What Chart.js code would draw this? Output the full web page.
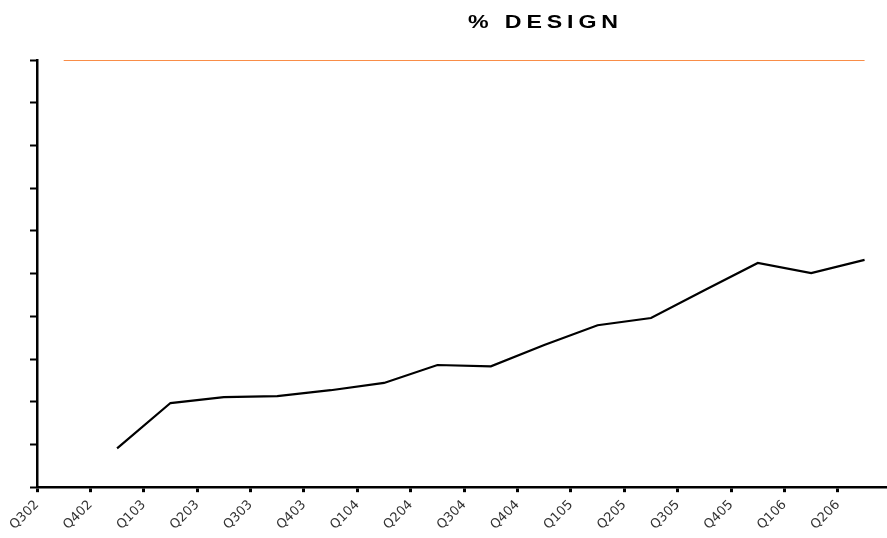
<!DOCTYPE html>
<html>
<head>
<meta charset="utf-8">
<script src="https://cdn.jsdelivr.net/npm/chart.js@4.4.0/dist/chart.umd.min.js"></script>
<style>
  html, body { margin: 0; padding: 0; background: #fff; }
  #wrap { width: 887px; height: 538px; position: relative; }
</style>
</head>
<body>
<div id="wrap"><canvas id="designChart"></canvas></div>
<script>
// quarter labels sit on the tick marks, values sit between them
const quarters = ['Q302', 'Q402', 'Q103', 'Q203', 'Q303', 'Q403', 'Q104', 'Q204',
  'Q304', 'Q404', 'Q105', 'Q205', 'Q305', 'Q405', 'Q106', 'Q206'];
const designPct = [null, 9.1, 19.7, 21.1, 21.3, 22.7, 24.4, 28.6,
  28.3, 33.3, 37.9, 39.6, 46.1, 52.5, 50.1, 53.2];
const targetPct = [100, 100, 100, 100, 100, 100, 100, 100,
  100, 100, 100, 100, 100, 100, 100, 100];
const chartTitle = '% DESIGN';

function toPoints(values) {
  return values.map((v, i) => ({ x: i + 0.5, y: v }));
}

// title is wide and off-centre in the original, so draw it by hand
const titlePlugin = {
  id: 'stretchedTitle',
  afterDraw(chart) {
    const c = chart.ctx;
    c.save();
    c.letterSpacing = '4px';
    c.font = 'bold 19px "Liberation Sans", Arial, sans-serif';
    c.fillStyle = '#000';
    c.textBaseline = 'alphabetic';
    c.translate(468, 28);
    c.scale(1.22, 1);
    c.fillText(chartTitle, 0, 0);
    c.restore();
  }
};

const ctx = document.getElementById('designChart').getContext('2d');

new Chart(ctx, {
  type: 'line',
  data: {
    datasets: [
      {
        label: 'Target',
        data: toPoints(targetPct),
        borderColor: '#f98d48',
        borderWidth: 2,
        pointRadius: 0,
        tension: 0
      },
      {
        label: '% Design',
        data: toPoints(designPct),
        borderColor: '#000',
        borderWidth: 2.2,
        pointRadius: 0,
        tension: 0,
        spanGaps: false
      }
    ]
  },
  options: {
    responsive: true,
    maintainAspectRatio: false,
    animation: false,
    layout: {
      padding: { top: 60, left: 30, right: 0, bottom: 0 }
    },
    plugins: {
      legend: { display: false },
      tooltip: { enabled: false },
      title: { display: false }
    },
    scales: {
      x: {
        type: 'linear',
        min: 0,
        max: 15.92,
        bounds: 'data',
        afterBuildTicks: function(scale) {
          scale.ticks = quarters.map((_, i) => ({ value: i }));
        },
        ticks: {
          autoSkip: false,
          minRotation: 45,
          maxRotation: 45,
          padding: 5,
          color: '#333',
          font: { family: '"DejaVu Sans", sans-serif', size: 13 },
          callback: function(value) {
            return quarters[value] || '';
          }
        },
        grid: {
          drawOnChartArea: false,
          drawTicks: true,
          tickLength: 5,
          tickWidth: 3,
          tickColor: '#000'
        },
        border: { display: true, color: '#000', width: 2.5 }
      },
      y: {
        min: 0,
        max: 100,
        ticks: { stepSize: 10, display: false },
        grid: {
          drawOnChartArea: false,
          drawTicks: true,
          tickLength: 7,
          tickWidth: 2,
          tickColor: '#000'
        },
        border: { display: true, color: '#000', width: 2.5 }
      }
    }
  },
  plugins: [titlePlugin]
});
</script>
</body>
</html>
